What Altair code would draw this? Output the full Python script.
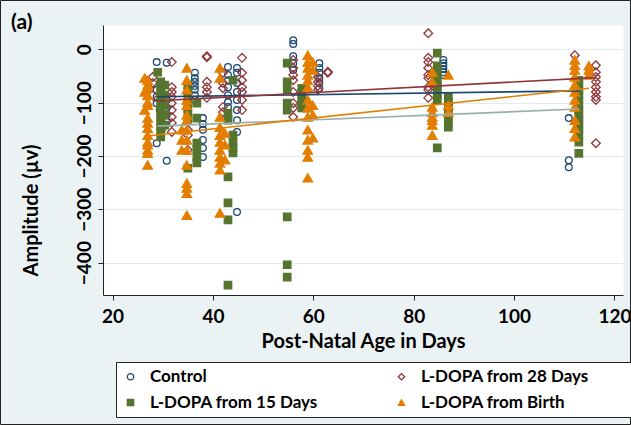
import altair as alt
import pandas as pd

GROUPS = ["Control", "L-DOPA from 28 Days", "L-DOPA from 15 Days", "L-DOPA from Birth"]
NAVY, MAROON, GREEN, ORANGE, TEAL = "#1a476f", "#90353b", "#55752f", "#e37e00", "#9aaea8"

control_age = [28.8, 28.8, 28.8, 28.8, 28.8, 29.4, 29.8, 30.8, 30.8, 30.8, 30.8, 30.8, 30.8,
               36.4, 36.4, 36.4, 36.4, 36.4, 36.4, 36.4,
               38.0, 38.0, 38.0, 38.0, 38.0, 38.0,
               43.0, 43.0, 43.0, 43.0, 43.0, 43.0, 43.0,
               44.8, 44.8, 44.8, 44.8, 44.8, 44.8, 44.8, 44.8, 44.8,
               56.0, 56.0, 56.0, 56.0, 56.0,
               61.2, 61.2, 61.2, 61.2, 61.2, 61.2,
               85.9, 85.9, 85.9, 85.9, 85.9, 85.9,
               110.9, 110.9, 110.9,
               112.9, 112.9, 112.9, 112.9, 112.9]
control_amp = [-24, -76, -89, -101, -176, -114, -151, -25, -95, -110, -123, -136, -209,
               -44, -54, -61, -69, -76, -86, -95,
               -129, -140, -151, -170, -185, -202,
               -33, -48, -58, -71, -86, -99, -108,
               -35, -44, -63, -80, -95, -114, -133, -155, -305,
               17, 10, -13, -26, -39,
               -26, -35, -44, -54, -63, -73,
               -20, -26, -31, -37, -43, -48,
               -129, -208, -221,
               -80, -88, -95, -103, -110]

d28_age = [28.0, 28.0, 28.0,
           31.8, 31.8, 31.8, 31.8, 31.8, 31.8, 31.8, 31.8, 31.8,
           35.0, 35.0, 35.0,
           38.8, 38.8, 38.8, 38.8, 38.8, 38.8,
           42.0, 42.0, 42.0, 42.0, 42.0,
           45.8, 45.8, 45.8, 45.8, 45.8, 45.8, 45.8,
           56.0, 56.0, 56.0, 56.0, 56.0, 56.0, 56.0, 56.0,
           60.9, 60.9, 60.9, 60.9,
           62.9, 62.9,
           82.9, 82.9, 82.9, 82.9, 82.9, 82.9, 82.9, 82.9, 82.9,
           112.1,
           116.3, 116.3, 116.3, 116.3, 116.3, 116.3, 116.3, 116.3, 116.3]
d28_amp = [-52, -63, -86,
           -24, -71, -80, -89, -101, -114, -127, -138, -155,
           -151, -161, -189,
           -13, -15, -61, -71, -80, -91,
           -44, -63, -73, -108, -118,
           -16, -44, -58, -71, -80, -95, -114,
           -20, -35, -48, -58, -80, -101, -110, -127,
           -52, -61, -69, -76,
           -42, -44,
           30, -16, -24, -35, -48, -54, -71, -76, -91,
           -11,
           -30, -43, -52, -61, -71, -80, -89, -95, -176]

d15_age = [29.0,
           29.6, 29.6, 29.6, 29.6, 29.6, 29.6, 29.6, 29.6, 29.6, 29.6, 29.6, 29.6,
           30.4, 30.4, 30.4, 30.4, 30.4,
           35.0, 35.0, 35.0, 35.0, 35.0, 35.0, 35.0,
           36.8, 36.8, 36.8, 36.8, 36.8, 36.8,
           43.0, 43.0, 43.0, 43.0, 43.0, 43.0,
           44.0, 44.0, 44.0, 44.0, 44.0,
           54.8, 54.8, 54.8, 54.8, 54.8, 54.8, 54.8, 54.8,
           57.7, 57.7, 57.7, 57.7, 57.7,
           84.7, 84.7, 84.7, 84.7, 84.7, 84.7, 84.7, 84.7, 84.7, 84.7,
           86.9, 86.9, 86.9, 86.9, 86.9, 86.9, 86.9,
           112.9, 112.9, 112.9, 112.9, 112.9, 112.9, 112.9, 112.9, 112.9, 112.9, 112.9, 112.9, 112.9, 112.9]
d15_amp = [-43,
           -61, -71, -80, -89, -99, -108, -118, -127, -136, -146, -155, -164,
           -67, -86, -105, -123, -142,
           -67, -80, -95, -110, -123, -133, -223,
           -101, -129, -176, -189, -202, -213,
           -120, -133, -239, -288, -320, -442,
           -58, -161, -174, -185, -194,
           -26, -61, -76, -101, -114, -314, -404, -427,
           -73, -82, -91, -101, -110,
           -7, -31, -39, -48, -58, -67, -76, -86, -95, -185,
           -89, -99, -108, -118, -127, -136, -146,
           -58, -67, -76, -86, -95, -105, -114, -123, -133, -142, -151, -161, -174, -195]

birth_age = [26.4, 26.4, 26.4,
             27.0, 27.0, 27.0, 27.0, 27.0, 27.0, 27.0, 27.0, 27.0, 27.0, 27.0, 27.0, 27.0, 27.0, 27.0,
             33.8, 33.8, 33.8,
             34.8, 34.8, 34.8, 34.8, 34.8, 34.8, 34.8, 34.8, 34.8, 34.8, 34.8, 34.8, 34.8, 34.8, 34.8,
             41.4, 41.4, 41.4, 41.4, 41.4, 41.4, 41.4, 41.4, 41.4, 41.4, 41.4,
             42.4, 42.4, 42.4,
             58.9, 58.9, 58.9, 58.9, 58.9, 58.9, 58.9, 58.9, 58.9, 58.9, 58.9, 58.9, 58.9, 58.9,
             59.9, 59.9, 59.9, 59.9, 59.9,
             83.7, 83.7, 83.7, 83.7, 83.7, 83.7, 83.7, 83.7,
             86.9, 86.9, 86.9,
             112.1, 112.1, 112.1, 112.1, 112.1, 112.1, 112.1, 112.1, 112.1, 112.1, 112.1,
             114.9, 114.9, 114.9]
birth_amp = [-54, -80, -114,
             -58, -67, -73, -86, -99, -105, -129, -138, -148, -161, -174, -179, -189, -195, -217,
             -151, -170, -189,
             -35, -58, -76, -95, -105, -123, -133, -151, -170, -189, -217, -251, -260, -270, -311,
             -35, -54, -127, -146, -161, -174, -189, -202, -213, -226, -307,
             -157, -179, -207,
             -11, -24, -35, -48, -58, -71, -95, -110, -127, -151, -170, -189, -202, -241,
             -24, -39, -105, -123, -166,
             -43, -61, -108, -118, -127, -133, -142, -161,
             -48, -105, -118,
             -20, -30, -39, -52, -67, -80, -95, -108, -133, -148, -164,
             -31, -39, -48]

# linear-fit end points
fit_start_age = [28.8, 28.0, 29.0, 26.4]
fit_end_age = [112.9, 116.3, 112.9, 114.9]
fit_start_amp = [-89, -97, -144, -163]
fit_end_amp = [-78, -53, -112, -73]

panel_label = ["(a)"]

rows = []
for g, ages, amps in zip(GROUPS, [control_age, d28_age, d15_age, birth_age],
                         [control_amp, d28_amp, d15_amp, birth_amp]):
    for a, v in zip(ages, amps):
        rows.append({"group": g, "age": a, "amp": v})
pts = pd.DataFrame(rows)

frows = []
for g, a0, a1, v0, v1 in zip(GROUPS, fit_start_age, fit_end_age, fit_start_amp, fit_end_amp):
    frows.append({"group": g, "age": a0, "amp": v0})
    frows.append({"group": g, "age": a1, "amp": v1})
fit = pd.DataFrame(frows)

FONT = "Lato"
x_scale = alt.Scale(domain=[18.1, 121.7], nice=False, zero=False)
y_scale = alt.Scale(domain=[-460.7, 45.6], nice=False, zero=False)

x_axis = alt.Axis(values=[20, 40, 60, 80, 100, 120], title="Post-Natal Age in Days",
                  grid=False, domainColor="#222", tickColor="#222", tickSize=5,
                  labelFont=FONT, labelFontSize=19, labelFontWeight="bold", labelColor="black",
                  labelBaseline="alphabetic", labelPadding=22,
                  titleFont=FONT, titleFontSize=20, titleFontWeight="bold", titleColor="black",
                  titleBaseline="alphabetic", titleY=52)
y_axis = alt.Axis(values=[-400, -300, -200, -100, 0], title="Amplitude (µv)",
                  grid=True, gridColor="#e3ebee", gridWidth=1,
                  domainColor="#222", tickColor="#222", tickSize=5,
                  labelFont=FONT, labelFontSize=19, labelFontWeight="bold", labelColor="black",
                  labelAngle=-90, labelAlign="center", labelBaseline="alphabetic", labelPadding=8,
                  titleFont=FONT, titleFontSize=20, titleFontWeight="bold", titleColor="black",
                  titleBaseline="alphabetic", titleX=-66, titleY=185)

leg = alt.Legend(title="\u00a0", titleOrient="right", titlePadding=37,
                 orient="none", legendX=13, legendY=337, columns=2, direction="horizontal",
                 columnPadding=75, rowPadding=8, symbolSize=40, symbolStrokeWidth=1.3,
                 labelFont=FONT, labelFontSize=17, labelFontWeight="bold", labelColor="black",
                 labelOffset=11, labelLimit=400, padding=6, fillColor="white", strokeColor="#222",
                 zindex=1)

shape_scale = alt.Scale(domain=GROUPS, range=["circle", "diamond", "square", "triangle-up"])
stroke_scale = alt.Scale(domain=GROUPS, range=[NAVY, MAROON, GREEN, ORANGE])
fill_scale = alt.Scale(domain=GROUPS, range=["transparent", "transparent", GREEN, ORANGE])
marker_area = [45, 75, 55, 90]

one = pd.DataFrame({"label": panel_label})
border = alt.Chart(one).mark_rect(fill="transparent", stroke="#222", strokeWidth=1).encode(
    x=alt.value(-102.5), x2=alt.value(527.5), y=alt.value(-24.5), y2=alt.value(399.5))
tag = alt.Chart(one).mark_text(font=FONT, fontSize=21, fontWeight="bold", color="black",
                                align="left", baseline="alphabetic").encode(
    text="label:N", x=alt.value(-92), y=alt.value(4))

point_layers = []
for g, area in zip(GROUPS, marker_area):
    point_layers.append(
        alt.Chart(pts).transform_filter(alt.datum.group == g)
        .mark_point(opacity=1, fillOpacity=1, strokeWidth=1.3, size=area)
        .encode(
            x=alt.X("age:Q", scale=x_scale, axis=x_axis),
            y=alt.Y("amp:Q", scale=y_scale, axis=y_axis),
            shape=alt.Shape("group:N", scale=shape_scale, legend=leg),
            stroke=alt.Stroke("group:N", scale=stroke_scale, legend=leg),
            fill=alt.Fill("group:N", scale=fill_scale, legend=leg),
        )
    )

lines = alt.Chart(fit).mark_line(strokeWidth=1.6).encode(
    x=alt.X("age:Q", scale=x_scale),
    y=alt.Y("amp:Q", scale=y_scale),
    color=alt.Color("group:N", scale=alt.Scale(domain=GROUPS, range=[NAVY, MAROON, TEAL, ORANGE]), legend=None),
    detail="group:N",
)

chart = alt.layer(border, tag, *point_layers, lines).properties(
    width=520, height=270,
    autosize=alt.AutoSizeParams(type="none"),
    padding={"left": 103, "top": 25, "right": 8, "bottom": 130},
    background="#eaf2f3",
).configure_view(fill="white", stroke="transparent")

chart.save("out.html", embed_options={"renderer": "svg", "actions": False})
